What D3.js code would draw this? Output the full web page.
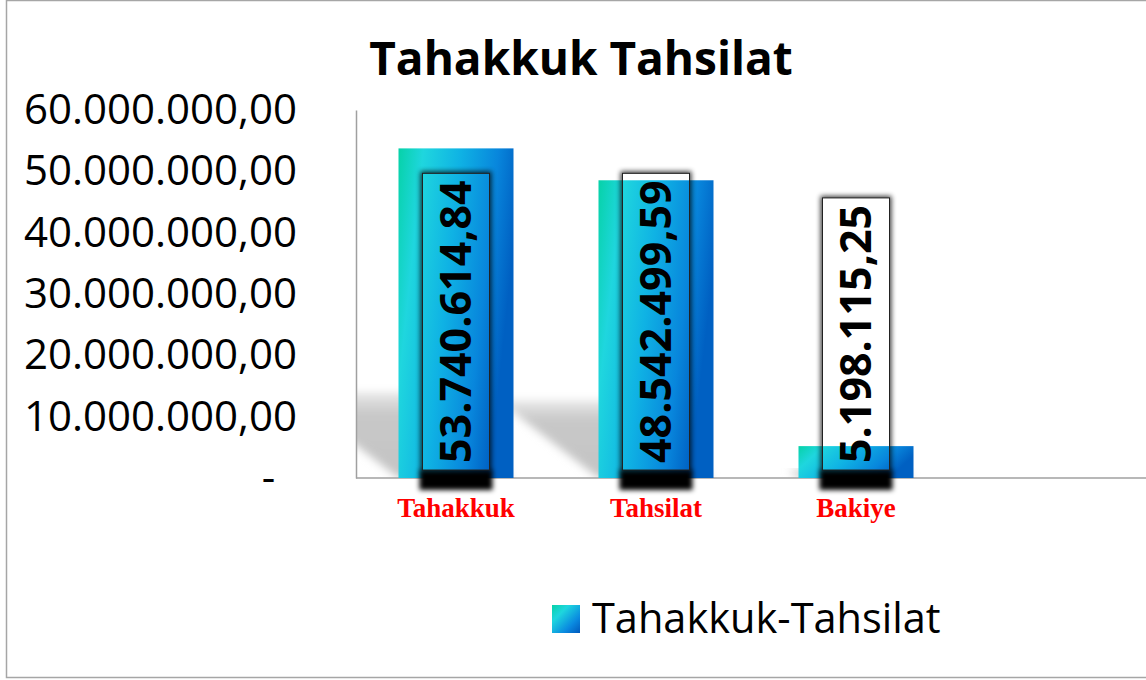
<!DOCTYPE html>
<html>
<head>
<meta charset="utf-8">
<script src="https://cdn.jsdelivr.net/npm/d3@7"></script>
<style>
body { margin:0; background:#fff; }
svg { display:block; }
</style>
</head>
<body>
<div id="chartDiv"></div>
<script>
var categories = ["Tahakkuk", "Tahsilat", "Bakiye"];
var values = [53740614.84, 48542499.59, 5198115.25];
var yTicks = [0, 10000000, 20000000, 30000000, 40000000, 50000000, 60000000];
var seriesName = "Tahakkuk-Tahsilat";
var chartTitle = "Tahakkuk Tahsilat";

var width = 1146;
var height = 680;
var plotLeft = 356;
var plotTop = 110;
var plotBottom = 478;
var labelBoxWidth = 67;
var labelPad = 7;

var trLocale = d3.formatLocale({decimal: ",", thousands: ".", grouping: [3], currency: ["", ""]});
var fmt = trLocale.format(",.2f");

var svg = d3.select("#chartDiv").append("svg")
	.attr("width", width)
	.attr("height", height);

var defs = svg.append("defs");

// bar fill
var grad = defs.append("linearGradient")
	.attr("id", "barGrad")
	.attr("x1", 0).attr("y1", 0)
	.attr("x2", 1).attr("y2", 0.3);
[["0", "#06d2a8"], ["0.2", "#1fd6de"], ["0.5", "#0fb2e4"], ["0.8", "#0886dc"], ["1", "#0060c2"]]
	.forEach(function(s) {
		grad.append("stop").attr("offset", s[0]).attr("stop-color", s[1]);
	});

var legGrad = defs.append("linearGradient")
	.attr("id", "legGrad")
	.attr("x1", 0).attr("y1", 0)
	.attr("x2", 1).attr("y2", 1);
[["0", "#06d2a8"], ["0.3", "#1ed6de"], ["0.7", "#0a8ae0"], ["1", "#0058bc"]]
	.forEach(function(s) {
		legGrad.append("stop").attr("offset", s[0]).attr("stop-color", s[1]);
	});

// floor shadow fades out towards the top
var shGrad = defs.append("linearGradient")
	.attr("id", "shadowGrad")
	.attr("x1", 0).attr("y1", 1)
	.attr("x2", 0).attr("y2", 0);
shGrad.append("stop").attr("offset", "0").attr("stop-color", "#c4c4c4");
shGrad.append("stop").attr("offset", "0.75").attr("stop-color", "#c8c8c8");
shGrad.append("stop").attr("offset", "1").attr("stop-color", "#e8e8e8");

defs.append("filter").attr("id", "floorBlur")
	.attr("x", "-20%").attr("y", "-20%").attr("width", "140%").attr("height", "140%")
	.append("feGaussianBlur").attr("stdDeviation", 4);

defs.append("filter").attr("id", "boxBlur")
	.attr("x", "-30%").attr("y", "-30%").attr("width", "160%").attr("height", "160%")
	.append("feGaussianBlur").attr("stdDeviation", 2.5);

defs.append("clipPath").attr("id", "plotClip")
	.append("rect")
	.attr("x", plotLeft + 1)
	.attr("y", 0)
	.attr("width", width)
	.attr("height", plotBottom);

// outer frame
svg.append("rect")
	.attr("x", 6.5)
	.attr("y", 0.5)
	.attr("width", width + 20)
	.attr("height", height - 3)
	.attr("fill", "none")
	.attr("stroke", "#a6a6a6")
	.attr("stroke-width", 1.5);

var x = d3.scaleBand()
	.domain(categories)
	.range([plotLeft, plotLeft + 600])
	.paddingInner(0.425)
	.paddingOuter(0.2125);

var y = d3.scaleLinear()
	.domain([0, 60000000])
	.range([plotBottom, plotTop]);

// title
svg.append("text")
	.text(chartTitle)
	.attr("x", 581)
	.attr("y", 75)
	.attr("text-anchor", "middle")
	.attr("font-family", "'Open Sans', sans-serif")
	.attr("font-weight", "bold")
	.attr("font-size", 46)
	.attr("fill", "#000");

// floor shadows
var shadowG = svg.append("g").attr("clip-path", "url(#plotClip)");
shadowG.selectAll("polygon")
	.data(values)
	.enter().append("polygon")
	.attr("points", function(d, i) {
		var x0 = x(categories[i]);
		var w = x.bandwidth();
		var base = y(0);
		var h = (y(0) - y(d)) * 0.26;
		var k = 1.3;
		return [[x0, base], [x0 + w, base], [x0 + w - k * h, base - h], [x0 - k * h, base - h]]
			.map(function(p) { return p.join(","); }).join(" ");
	})
	.attr("fill", "url(#shadowGrad)")
	.attr("filter", "url(#floorBlur)");

// y axis
var yAxis = d3.axisLeft(y)
	.tickValues(yTicks)
	.tickSize(0)
	.tickPadding(59)
	.tickFormat(function(d) { return d === 0 ? "-\u00a0\u00a0" : fmt(d); });

var yG = svg.append("g")
	.attr("transform", "translate(" + plotLeft + ",0)")
	.call(yAxis);
yG.select(".domain").attr("stroke", "#a0a0a0").attr("stroke-width", 1.5);
yG.selectAll("text")
	.attr("font-family", "'Open Sans', sans-serif")
	.attr("font-size", 42)
	.attr("fill", "#000");

// x axis line
svg.append("line")
	.attr("x1", plotLeft)
	.attr("x2", width)
	.attr("y1", y(0))
	.attr("y2", y(0))
	.attr("stroke", "#a0a0a0")
	.attr("stroke-width", 1.5);

// bars
svg.selectAll(".bar")
	.data(values)
	.enter().append("rect")
	.attr("class", "bar")
	.attr("x", function(d, i) { return x(categories[i]); })
	.attr("y", function(d) { return y(d); })
	.attr("width", x.bandwidth())
	.attr("height", function(d) { return y(0) - y(d); })
	.attr("fill", "url(#barGrad)");

// category labels
svg.selectAll(".catLabel")
	.data(categories)
	.enter().append("text")
	.attr("class", "catLabel")
	.text(function(d) { return d; })
	.attr("x", function(d) { return x(d) + x.bandwidth() / 2; })
	.attr("y", 517)
	.attr("text-anchor", "middle")
	.attr("font-family", "'Liberation Serif', 'Times New Roman', serif")
	.attr("font-weight", "bold")
	.attr("font-size", 27)
	.attr("fill", "#ff0000");

// data labels
values.forEach(function(v, i) {
	var cx = x(categories[i]) + x.bandwidth() / 2;
	var bottom = y(0) - 8;
	var g = svg.append("g");

	var t = g.append("text")
		.text(fmt(v))
		.attr("transform", "translate(" + cx + "," + (bottom - labelPad) + ") rotate(-90)")
		.attr("dy", "0.35em")
		.attr("font-family", "'Open Sans', sans-serif")
		.attr("font-weight", "bold")
		.attr("font-size", 43)
		.attr("fill", "#000");
	var len = t.node().getComputedTextLength();
	var bx = cx - labelBoxWidth / 2;
	var bh = len + labelPad * 2;
	var by = bottom - bh;

	var m = defs.append("mask")
		.attr("id", "lblMask" + i)
		.attr("maskUnits", "userSpaceOnUse")
		.attr("x", 0).attr("y", 0).attr("width", width).attr("height", height);
	m.append("rect").attr("x", 0).attr("y", 0).attr("width", width).attr("height", height).attr("fill", "#fff");
	m.append("rect").attr("x", bx).attr("y", by).attr("width", labelBoxWidth).attr("height", bh).attr("fill", "#000");

	var sh = g.insert("g", "text").attr("mask", "url(#lblMask" + i + ")");
	sh.append("rect")
		.attr("x", bx - 2)
		.attr("y", by - 2)
		.attr("width", labelBoxWidth + 4)
		.attr("height", bh + 4)
		.attr("fill", "#000")
		.attr("opacity", 0.75)
		.attr("filter", "url(#boxBlur)");
	sh.append("rect")
		.attr("x", bx - 3)
		.attr("y", bottom)
		.attr("width", labelBoxWidth + 6)
		.attr("height", 20)
		.attr("fill", "#000")
		.attr("filter", "url(#boxBlur)");

	g.insert("rect", "text")
		.attr("x", bx)
		.attr("y", by)
		.attr("width", labelBoxWidth)
		.attr("height", bh)
		.attr("fill", "none")
		.attr("stroke", "#222")
		.attr("stroke-width", 1);
});

// legend
svg.append("rect")
	.attr("x", 552)
	.attr("y", 605)
	.attr("width", 28)
	.attr("height", 28)
	.attr("fill", "url(#legGrad)");
svg.append("text")
	.text(seriesName)
	.attr("x", 592)
	.attr("y", 633)
	.attr("font-family", "'Open Sans', sans-serif")
	.attr("font-size", 41.5)
	.attr("fill", "#000");
</script>
</body>
</html>
